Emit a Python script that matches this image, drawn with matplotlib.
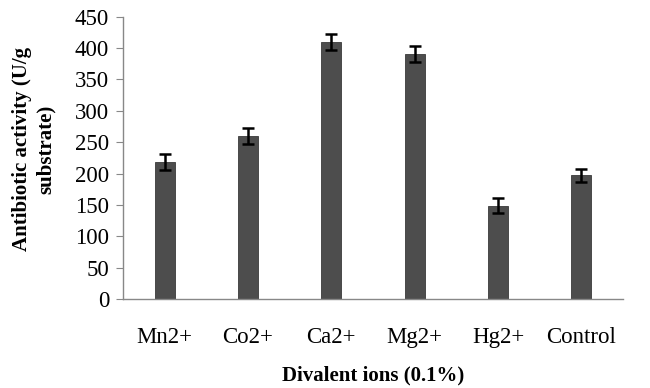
import numpy as np
import matplotlib.pyplot as plt

ions = ['Mn2+', 'Co2+', 'Ca2+', 'Mg2+', 'Hg2+', 'Control']
activity = [218, 260, 410, 391, 149, 197]
err = [12.5, 12.5, 12.5, 12.5, 11.5, 10.5]
yticks = [0, 50, 100, 150, 200, 250, 300, 350, 400, 450]

plt.rcParams['font.family'] = ['Liberation Serif', 'DejaVu Serif']

fig = plt.figure(figsize=(6.5, 3.88), dpi=100)
ax = fig.add_axes([123 / 650, 1 - 299 / 388, 500 / 650, (299 - 16.7) / 388])

x = np.arange(len(ions))
ax.bar(x, activity, width=0.24, color='#4d4d4d', edgecolor='#3a3a3a', linewidth=0.6, zorder=2)
ax.errorbar(x, activity, yerr=err, fmt='none', ecolor='black', elinewidth=1.8,
            capsize=4, capthick=1.8, zorder=3)

ax.set_xlim(-0.5, len(ions) - 0.5)
ax.set_ylim(0, 450)
ax.set_yticks(yticks)
ax.set_xticks(x)
ax.set_xticklabels(ions, fontsize=16.5)
ax.tick_params(axis='y', labelsize=16.5, length=5, color='#888888', pad=5)
ax.tick_params(axis='x', length=0, pad=20)

for s in ['top', 'right']:
    ax.spines[s].set_visible(False)
for s in ['left', 'bottom']:
    ax.spines[s].set_color('#888888')
    ax.spines[s].set_linewidth(1.0)

ax.set_xlabel('Divalent ions (0.1%)', fontsize=15, fontweight='bold')
ax.xaxis.set_label_coords(0.5, -0.235)
ax.set_ylabel('Antibiotic activity (U/g\nsubstrate)', fontsize=15, fontweight='bold',
              linespacing=1.25)
ax.yaxis.set_label_coords(-0.134, 0.53)

fig.savefig('out.png', dpi=100)
